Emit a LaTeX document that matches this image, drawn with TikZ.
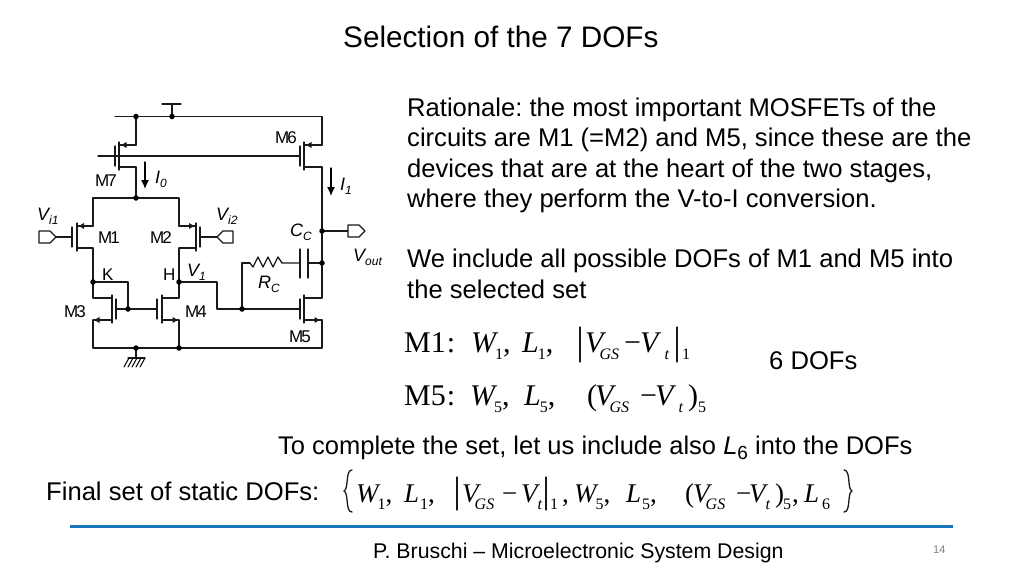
\documentclass[tikz,border=0pt]{standalone}
\usepackage{fontspec}
\setmainfont{Liberation Sans}
\newfontfamily\eqfont{Liberation Serif}
\usetikzlibrary{arrows.meta, decorations.pathmorphing}

\definecolor{rulecol}{RGB}{24,116,184}
\frenchspacing

% text helpers
\newcommand{\tx}[1]{\fontsize{#1}{#1}\selectfont}
\newcommand{\clab}[2]{{\itshape\tx{18}#1\raisebox{-0.45ex}{\tx{12}#2}}}
\newcommand{\dname}[1]{M\kern-2pt#1}
\newcommand{\eqsub}[2][-1pt]{\kern#1\raisebox{-7pt}{\tx{16}#2}}
\newcommand{\eqit}[3][-1pt]{{\itshape #2}\eqsub[#1]{#3}}
% V_GS - V_t: #1, #2 are the offsets of the minus and of the second V, #3 the kern before t
\newcommand{\eqvgs}[3]{\makebox[#1][l]{\itshape V\eqsub[-4pt]{GS}}\makebox[#2][l]{−}{\itshape V\eqsub[#3]{t}}}

\begin{document}
\begin{tikzpicture}[x=1pt, y=-1pt, >=Latex, line cap=round, line join=round]
		
		%======================
		% STYLES
		%======================
		\tikzset{
			wire/.style={line width=1.3pt, black!90},
			srcarrow/.style={wire, -{Latex[length=6pt,width=6.5pt]}},
			curarrow/.style={line width=1.3pt, black, -{Latex[length=9pt,width=8pt]}},
			dot/.style={circle, fill=black, inner sep=0pt, minimum size=5.5pt},
			devlabel/.style={inner sep=0pt, anchor=base west, font=\tx{17}},
			sidelabel/.style={inner sep=0pt, anchor=base west},
			slidetext/.style={inner sep=0pt, anchor=base west, font=\tx{25.6}},
			eqtext/.style={inner sep=0pt, anchor=base west, font=\eqfont\tx{30}},
			eqsmall/.style={inner sep=0pt, anchor=base west, font=\eqfont\tx{27}},
			pin/.style={line width=1.3pt, black!90, fill=white}
		}
		
		% Utility: MOSFET outline (gate bar x, channel x, rail x, top y, bottom y)
		\newcommand{\mosdev}[5]{
			\draw[wire] (#2,#4-3) -- (#2,#5+3);
			\draw[wire] (#1,#4+1) -- (#1,#5-1);
			\draw[wire] (#2,#4) -- (#3,#4);
			\draw[wire] (#2,#5) -- (#3,#5);
		}
		
		\useasboundingbox (0,0) rectangle (1024,576);
		\fill[white] (0,0) rectangle (1024,576);
		
		%----------------------
		% Title and rationale
		%----------------------
		\node[slidetext, font=\tx{29.7}] (title) at (343,47) {Selection of the 7 DOFs};
		\node[slidetext] (ratA) at (407,116) {Rationale: the most important MOSFETs of the};
		\node[slidetext] (ratB) at (407,146) {circuits are M1 (=M2) and M5, since these are the};
		\node[slidetext] (ratC) at (407,177) {devices that are at the heart of the two stages,};
		\node[slidetext] (ratD) at (407,207) {where they perform the V-to-I conversion.};
		\node[slidetext] (incA) at (407,267) {We include all possible DOFs of M1 and M5 into};
		\node[slidetext] (incB) at (407,298) {the selected set};
		\node[slidetext] (dofs) at (769,369) {6 DOFs};
		\node[slidetext, font=\tx{25.5}] (compl) at (278,454) {To complete the set, let us include also {\itshape L}\raisebox{-0.4ex}{\tx{19}6} into the DOFs};
		\node[slidetext] (final) at (46,500) {Final set of static DOFs:};
		
		%----------------------
		% Devices
		%----------------------
		\mosdev{115}{119}{136}{145}{167} % M7
		\mosdev{300}{304}{322}{145}{167} % M6
		\mosdev{72}{77}{93}{226}{248}    % M1
		\mosdev{200}{196}{179}{226}{248} % M2
		\mosdev{116}{112}{93}{298}{320}  % M3
		\mosdev{157}{162}{179}{298}{320} % M4
		\mosdev{300}{304}{322}{298}{320} % M5
		
		\draw[srcarrow] (136,145) -- (120.5,145);
		\draw[srcarrow] (322,145) -- (305.5,145);
		\draw[srcarrow] (93,226) -- (78,226);
		\draw[srcarrow] (179,226) -- (195,226);
		\draw[srcarrow] (112,320) -- (93.5,320);
		\draw[srcarrow] (162,320) -- (178.5,320);
		\draw[srcarrow] (304,320) -- (320.5,320);
		
		%----------------------
		% Wiring
		%----------------------
		\coordinate (VM) at (136,198);
		\coordinate (KN) at (93,282);
		\coordinate (HN) at (179,282);
		\coordinate (GN) at (128,309);
		\coordinate (FB) at (242,309);
		\coordinate (OUT) at (322,231);
		\coordinate (CN) at (322,263);
		
		% supply and ground rails
		\draw[wire] (162,104) -- (181,104);
		\draw[wire] (172,104) -- (172,116.5);
		\draw[wire] (115,116.5) -- (322,116.5) -- (322,145);
		\draw[wire] (136,116.5) -- (136,145);
		\draw[wire] (93,320) -- (93,348) -- (322,348) -- (322,320);
		\draw[wire] (179,320) -- (179,348);
		\draw[wire] (136,348) -- (136,358);
		\draw[wire] (128,358) -- (145,358);
		\foreach \hx in {129,133,137,141,145}
			\draw[line width=1pt] (\hx,358) -- (\hx-5,367);
		
		% gates
		\draw[wire] (98,156) -- (300,156);
		\draw[wire] (116,309) -- (157,309);
		\draw[wire] (56,237) -- (72,237);
		\draw[wire] (200,237) -- (217,237);
		
		% drains
		\draw[wire] (136,167) -- (VM);
		\draw[wire] (93,226) -- (93,198) -- (179,198) -- (179,226);
		\draw[wire] (93,248) -- (KN) -- (93,298);
		\draw[wire] (179,248) -- (HN) -- (179,298);
		\draw[wire] (KN) -- (128,282) -- (GN);
		\draw[wire] (HN) -- (217,282) -- (217,309) -- (300,309);
		\draw[wire] (322,167) -- (OUT) -- (CN) -- (322,298);
		\draw[wire] (OUT) -- (348,231);
		
		% compensation branch
		\draw[wire] (FB) -- (242,263) -- (250,263);
		\draw[wire] (250,263) -- (253,267) -- (258,257) -- (263,267) -- (268,257) -- (273,267) -- (278,257) -- (282,263) -- (300,263);
		\draw[wire] (300,249) -- (300,278);
		\draw[wire] (308,249) -- (308,278);
		\draw[wire] (308,263) -- (CN);
		
		% pins
		\draw[pin] (39,231) -- (50,231) -- (56,237) -- (50,243) -- (39,243) -- cycle;
		\draw[pin] (233,231) -- (223,231) -- (217,237) -- (223,243) -- (233,243) -- cycle;
		\draw[pin] (348,225) -- (359,225) -- (365,231) -- (359,237) -- (348,237) -- cycle;
		
		% junction dots
		\foreach \dx/\dy in {136/116.5, 172/116.5, 136/198, 93/282, 179/282, 128/309, 242/309, 322/231, 322/263, 136/348, 179/348}
			\node[dot] at (\dx,\dy) {};
		
		% current arrows
		\draw[curarrow] (145,162) -- (145,189);
		\draw[curarrow] (331,168) -- (331,196);
		
		%----------------------
		% Circuit labels
		%----------------------
		\node[devlabel] (lM6) at (275,143) {\dname{6}};
		\node[devlabel] (lM7) at (95,186) {\dname{7}};
		\node[devlabel] (lM1) at (98,243) {\dname{1}};
		\node[devlabel] (lM2) at (150,243) {\dname{2}};
		\node[devlabel] (lM3) at (64,317) {\dname{3}};
		\node[devlabel] (lM4) at (185,317) {\dname{4}};
		\node[devlabel] (lM5) at (289,342) {\dname{5}};
		\node[devlabel] (lK) at (102,280) {K};
		\node[devlabel] (lH) at (163,280) {H};
		\node[sidelabel] (lI0) at (155,183) {\clab{I}{0}};
		\node[sidelabel] (lI1) at (340,190) {\clab{I}{1}};
		\node[sidelabel] (lVi1) at (37,220) {\clab{V}{i1}};
		\node[sidelabel] (lVi2) at (216,220) {\clab{V}{i2}};
		\node[sidelabel] (lV1) at (187,276) {\clab{V}{1}};
		\node[sidelabel] (lCC) at (290,236) {\clab{C}{C}};
		\node[sidelabel] (lRC) at (258,288) {\clab{R}{C}};
		\node[sidelabel] (lVout) at (353,261) {\clab{V}{out}};
		
		%----------------------
		% Equations
		%----------------------
		\node[eqtext] (eqMA) at (404,352) {M1\kern1pt:};
		\node[eqtext] (eqWA) at (471,352) {\eqit{W}{1},};
		\node[eqtext] (eqLA) at (522,352) {\eqit{L}{1},};
		\draw[wire] (580,327) -- (580,362);
		\node[eqtext] (eqVA) at (585,352) {\eqvgs{39pt}{16pt}{6pt}};
		\draw[wire] (677,327) -- (677,362);
		\node[eqtext] (eqIA) at (682,352) {\eqsub[0pt]{1}};
		
		\node[eqtext] (eqMB) at (404,405) {M5\kern1pt:};
		\node[eqtext] (eqWB) at (470,405) {\eqit{W}{5},};
		\node[eqtext] (eqLB) at (524,405) {\eqit{L}{5},};
		\node[eqtext] (eqPB) at (587,405) {(};
		\node[eqtext] (eqVB) at (595,405) {\eqvgs{45pt}{15pt}{5pt}};
		\node[eqtext] (eqQB) at (688,405) {)};
		\node[eqtext] (eqIB) at (698,405) {\eqsub[0pt]{5}};
		
		\draw[wire] (352,470) .. controls (345,470) and (349,489) .. (344,491) .. controls (349,493) and (345,512) .. (352,512);
		\node[eqsmall] (eqWC) at (356,502) {\eqit{W}{1},};
		\node[eqsmall] (eqLC) at (404,502) {\eqit[1pt]{L}{1},};
		\draw[wire] (457,477) -- (457,510);
		\node[eqsmall] (eqVC) at (462,502) {\eqvgs{40pt}{19pt}{0pt}};
		\draw[wire] (546,477) -- (546,510);
		\node[eqsmall] (eqIC) at (550,502) {\eqsub[0pt]{1}};
		\node[eqsmall] (eqCC) at (562,502) {,};
		\node[eqsmall] (eqWD) at (574,502) {\eqit{W}{5},};
		\node[eqsmall] (eqLD) at (626,502) {\eqit[1pt]{L}{5},};
		\node[eqsmall] (eqPD) at (685,502) {(};
		\node[eqsmall] (eqVD) at (693,502) {\eqvgs{43pt}{13pt}{0pt}};
		\node[eqsmall] (eqQD) at (775,502) {)};
		\node[eqsmall] (eqID) at (783,502) {\eqsub[0pt]{5}};
		\node[eqsmall] (eqCD) at (792,502) {,};
		\node[eqsmall] (eqLE) at (804,502) {\eqit[3pt]{L}{6}};
		\draw[wire] (844,470) .. controls (851,470) and (847,489) .. (852,491) .. controls (847,493) and (851,512) .. (844,512);
		
		%----------------------
		% Footer
		%----------------------
		\draw[line width=3pt, rulecol, line cap=butt] (70,526) -- (953,526);
		\node[slidetext, font=\tx{21.3}] (foot) at (373,558) {P. Bruschi – Microelectronic System Design};
		\node[slidetext, font=\tx{11}, text=black!50] (page) at (933,553) {14};
		
	\end{tikzpicture}
\end{document}
